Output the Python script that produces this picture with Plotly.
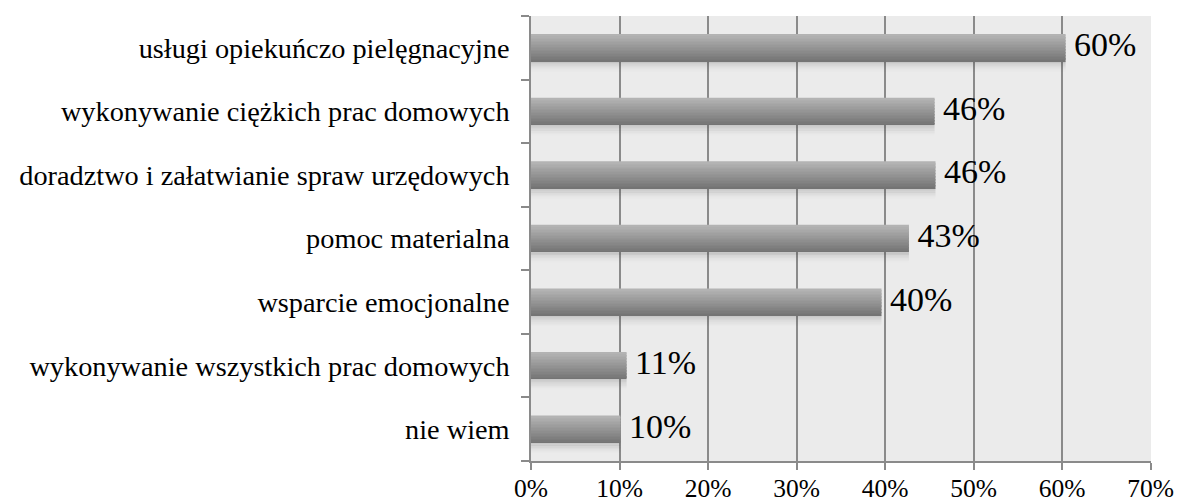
import plotly.graph_objects as go

# Survey answers, listed top to bottom as shown on the chart
categories = [
    "usługi opiekuńczo pielęgnacyjne",
    "wykonywanie ciężkich prac domowych",
    "doradztwo i załatwianie spraw urzędowych",
    "pomoc materialna",
    "wsparcie emocjonalne",
    "wykonywanie wszystkich prac domowych",
    "nie wiem",
]
percent = [60.4, 45.6, 45.7, 42.7, 39.6, 10.8, 10.1]
x_ticks = [0, 10, 20, 30, 40, 50, 60, 70]

SERIF = "Liberation Serif, DejaVu Serif, serif"
GRID = "#8a8a8a"


def lerp_grey(a, b, t):
    v = round(a + (b - a) * t)
    return f"rgb({v},{v},{v})"


fig = go.Figure()

bar_w = 0.42          # bar thickness in category units
n_strips = 18         # horizontal strips that build the cylinder-like shading
strip = bar_w / n_strips

# soft drop shadow under each bar
n_shadow = 7
shadow_depth = 0.17
for k in range(n_shadow):
    sw = shadow_depth / n_shadow
    off = -bar_w / 2 - (k + 1) * sw
    alpha = 0.20 * (1 - k / n_shadow) ** 1.6
    fig.add_trace(go.Bar(
        x=percent, y=categories, orientation="h",
        width=sw * 1.05, offset=off,
        marker=dict(color=f"rgba(60,60,60,{alpha:.3f})", line=dict(width=0)),
        hoverinfo="skip", showlegend=False,
    ))

# shaded bar body: light at the top edge, darker towards the bottom
for k in range(n_strips):
    t = k / (n_strips - 1)   # 0 = bottom strip, 1 = top strip
    off = -bar_w / 2 + k * strip
    fig.add_trace(go.Bar(
        x=percent, y=categories, orientation="h",
        width=strip * 1.2, offset=off,
        marker=dict(color=lerp_grey(0x74, 0xb3, t), line=dict(width=0)),
        hoverinfo="skip", showlegend=False,
    ))

# value labels at the end of the bars
fig.add_trace(go.Scatter(
    x=percent, y=categories, mode="text",
    text=[f" {round(v)}%" for v in percent],
    textposition="middle right",
    textfont=dict(family=SERIF, size=34, color="black"),
    cliponaxis=False, hoverinfo="skip", showlegend=False,
))

fig.update_layout(
    width=1179, height=504,
    margin=dict(l=531, r=28, t=16, b=43, autoexpand=False),
    paper_bgcolor="white",
    plot_bgcolor="#ebebeb",
    barmode="overlay",
    font=dict(family=SERIF, color="black"),
    xaxis=dict(
        range=[0, 70.05],
        tickvals=x_ticks,
        ticktext=[f"{v}%" for v in x_ticks],
        tickfont=dict(family=SERIF, size=25.5, color="black"),
        showgrid=True, gridcolor=GRID, gridwidth=1.5,
        zeroline=False,
        showline=True, linecolor=GRID, linewidth=1.5,
        ticks="outside", ticklen=7, tickcolor=GRID, tickwidth=1.5,
        ticklabelstandoff=-3,
        automargin=False,
    ),
    yaxis=dict(
        categoryorder="array",
        categoryarray=list(reversed(categories)),
        tickfont=dict(family=SERIF, size=28.3, color="black"),
        showgrid=False, zeroline=False,
        showline=True, linecolor=GRID, linewidth=1.5,
        ticks="outside", tickson="boundaries", ticklen=8,
        tickcolor=GRID, tickwidth=1.5,
        ticklabelstandoff=14,
        automargin=False,
    ),
)

fig.write_html("out.html")
